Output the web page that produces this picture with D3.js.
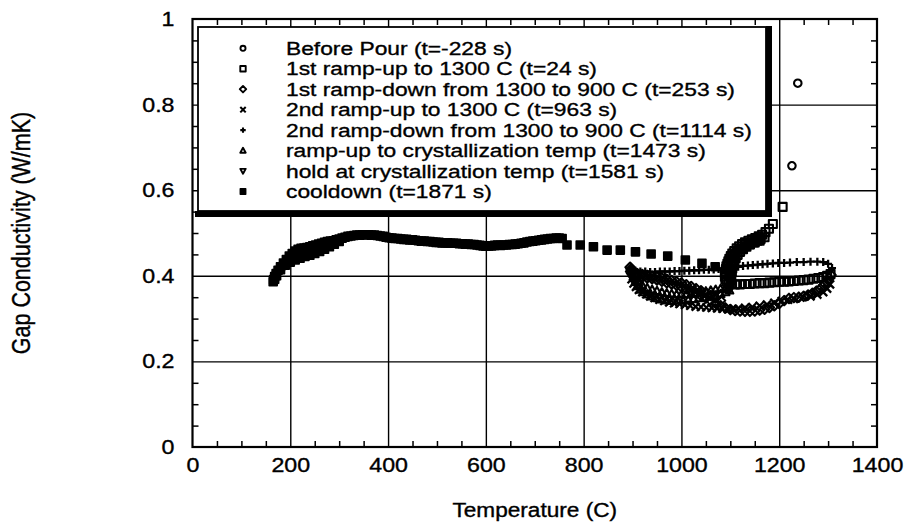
<!DOCTYPE html>
<html>
<head>
<meta charset="utf-8">
<script src="https://cdn.jsdelivr.net/npm/d3@7"></script>
<style>
  body { margin: 0; background: #fff; }
  svg text { font-family: "Liberation Sans", Arial, Helvetica, sans-serif; fill: #000; stroke: #000; stroke-width: 0.35px; }
</style>
</head>
<body>
<svg id="chart" width="905" height="524"></svg>
<script>
// Data: [temperature (C), gap conductivity (W/mK)]
var beforePour = [[1238, 0.850], [1226, 0.657]];

var rampUp1 = [
  [1207, 0.561], [1187, 0.521], [1179, 0.510], [1172, 0.502], [1165, 0.496], [1158, 0.492],
  [1151, 0.488], [1144, 0.485], [1137, 0.482], [1130, 0.478], [1124, 0.474], [1118, 0.469],
  [1113, 0.464], [1108, 0.458], [1104, 0.452], [1101, 0.446], [1098, 0.440], [1096, 0.434],
  [1094, 0.428], [1092, 0.422], [1091, 0.416], [1090, 0.410], [1089, 0.404], [1089, 0.398],
  [1090, 0.392], [1092, 0.387], [1096, 0.383], [1102, 0.381], [1110, 0.380], [1120, 0.380],
  [1130, 0.381], [1140, 0.381], [1150, 0.382], [1160, 0.383], [1170, 0.383], [1180, 0.384],
  [1190, 0.385], [1200, 0.386], [1210, 0.386], [1220, 0.387], [1230, 0.388], [1240, 0.389],
  [1250, 0.390], [1260, 0.391], [1270, 0.393], [1280, 0.395], [1290, 0.397], [1298, 0.400],
  [1305, 0.404],
  [1160, 0.482], [1150, 0.478], [1140, 0.474], [1130, 0.469], [1122, 0.463], [1115, 0.456],
  [1110, 0.449], [1106, 0.441], [1103, 0.433], [1101, 0.425], [1099, 0.417], [1098, 0.409],
  [1170, 0.490], [1162, 0.486], [1155, 0.482], [1148, 0.478], [1140, 0.473], [1133, 0.468],
  [1126, 0.462], [1120, 0.456], [1115, 0.449], [1111, 0.441], [1108, 0.433], [1106, 0.425],
  [1104, 0.417], [1103, 0.409], [1102, 0.401]
];

var rampDown1 = [
  [1306, 0.402], [1302, 0.394], [1297, 0.386], [1291, 0.378], [1284, 0.370], [1276, 0.364],
  [1268, 0.359], [1259, 0.355], [1250, 0.352], [1240, 0.350], [1230, 0.349], [1220, 0.347],
  [1210, 0.342], [1200, 0.335], [1190, 0.330], [1180, 0.326], [1170, 0.322], [1160, 0.320],
  [1150, 0.318], [1140, 0.317], [1130, 0.317], [1120, 0.318], [1110, 0.319], [1100, 0.321],
  [1090, 0.325], [1080, 0.330], [1070, 0.336], [1060, 0.342], [1050, 0.348], [1040, 0.354],
  [1030, 0.360], [1020, 0.365], [1010, 0.370], [1000, 0.374], [990, 0.378], [980, 0.381],
  [970, 0.384], [960, 0.387], [950, 0.390], [940, 0.393], [930, 0.395], [920, 0.397],
  [910, 0.399], [903, 0.402], [898, 0.406], [896, 0.410],
  [1080, 0.342], [1070, 0.348], [1060, 0.354], [1050, 0.360], [1040, 0.365], [1030, 0.370],
  [1020, 0.375], [1010, 0.379], [1000, 0.383], [990, 0.386], [980, 0.389], [970, 0.392],
  [960, 0.395], [950, 0.397], [940, 0.399], [930, 0.401], [920, 0.403], [910, 0.405],
  [902, 0.410], [897, 0.416], [895, 0.420]
];

var rampUp2 = [
  [898, 0.392], [902, 0.382], [907, 0.374], [913, 0.367], [920, 0.362], [928, 0.357],
  [936, 0.352], [945, 0.348], [955, 0.344], [965, 0.341], [975, 0.338], [985, 0.336],
  [996, 0.334], [1007, 0.332], [1018, 0.330], [1029, 0.328], [1040, 0.327], [1051, 0.326],
  [1062, 0.325], [1073, 0.324], [1084, 0.323], [1095, 0.322], [1106, 0.322], [1117, 0.323],
  [1130, 0.325], [1145, 0.327], [1160, 0.330], [1175, 0.333], [1190, 0.337], [1205, 0.341],
  [1218, 0.344], [1230, 0.346], [1248, 0.350], [1264, 0.352], [1278, 0.356], [1290, 0.362],
  [1298, 0.370], [1304, 0.380]
];

var rampDown2 = [
  [1308, 0.418], [1300, 0.428], [1290, 0.432], [1278, 0.433], [1264, 0.433], [1250, 0.432],
  [1236, 0.432], [1222, 0.431], [1210, 0.430], [1198, 0.430], [1187, 0.429], [1176, 0.428],
  [1166, 0.427], [1156, 0.426], [1146, 0.425], [1136, 0.424], [1126, 0.423], [1116, 0.421],
  [1106, 0.419], [1096, 0.418], [1086, 0.417], [1076, 0.416], [1066, 0.415], [1056, 0.414],
  [1046, 0.414], [1036, 0.413], [1026, 0.413], [1016, 0.412], [1006, 0.412], [996, 0.411],
  [986, 0.411], [976, 0.410], [966, 0.410], [956, 0.410], [946, 0.409], [936, 0.409],
  [926, 0.410], [916, 0.410], [906, 0.412], [898, 0.414]
];

var rampCryst = [
  [898, 0.412], [902, 0.398], [906, 0.386], [910, 0.376], [916, 0.368], [923, 0.362],
  [931, 0.357], [940, 0.352], [950, 0.348], [960, 0.345], [970, 0.343], [981, 0.342],
  [992, 0.342], [1003, 0.343], [1014, 0.344], [1025, 0.346], [1036, 0.348], [1047, 0.350],
  [1058, 0.352], [1069, 0.355], [1080, 0.358], [1090, 0.362], [1098, 0.366],
  [905, 0.395], [912, 0.385], [920, 0.378], [930, 0.372], [940, 0.368], [950, 0.365],
  [960, 0.362], [970, 0.360], [980, 0.358], [990, 0.357], [1000, 0.357], [1010, 0.357],
  [1020, 0.358], [1030, 0.360], [1040, 0.362], [1050, 0.364], [1060, 0.366], [1070, 0.368],
  [1080, 0.370], [1090, 0.372]
];

var holdCryst = [
  [1099, 0.368], [1100, 0.373], [1101, 0.378], [1100, 0.383], [1101, 0.388], [1102, 0.392],
  [1101, 0.396], [1102, 0.400], [1103, 0.404], [1102, 0.408], [1101, 0.412]
];

var cooldown = [
  [1093, 0.417], [1069, 0.421], [1042, 0.429], [1008, 0.437], [972, 0.446], [938, 0.451],
  [906, 0.456], [875, 0.460], [848, 0.460], [820, 0.468], [793, 0.472], [766, 0.472],
  [756, 0.487], [750, 0.488], [744, 0.488], [738, 0.487], [732, 0.487], [726, 0.486],
  [720, 0.485], [714, 0.484], [708, 0.483], [702, 0.482], [696, 0.481], [690, 0.480],
  [684, 0.479], [678, 0.477], [672, 0.476], [666, 0.475], [660, 0.474], [654, 0.473],
  [648, 0.473], [642, 0.472], [636, 0.472], [630, 0.471], [624, 0.472], [618, 0.471],
  [612, 0.470], [606, 0.470], [600, 0.469], [594, 0.470], [588, 0.471], [582, 0.472],
  [576, 0.473], [570, 0.473], [564, 0.474], [558, 0.474], [552, 0.475], [546, 0.475],
  [540, 0.476], [534, 0.476], [528, 0.476], [522, 0.477], [516, 0.477], [510, 0.477],
  [504, 0.478], [498, 0.478], [492, 0.479], [486, 0.480], [480, 0.480], [474, 0.481],
  [468, 0.481], [462, 0.482], [456, 0.483], [450, 0.484], [444, 0.484], [438, 0.485],
  [432, 0.485], [426, 0.486], [420, 0.487], [414, 0.487], [408, 0.488], [402, 0.489],
  [396, 0.490], [390, 0.492], [384, 0.493], [378, 0.494], [372, 0.495], [366, 0.495],
  [360, 0.496], [354, 0.496], [348, 0.496], [342, 0.495], [336, 0.495], [330, 0.494],
  [324, 0.493], [318, 0.492], [312, 0.490], [306, 0.488], [300, 0.486], [294, 0.484],
  [288, 0.482], [282, 0.481], [276, 0.480], [270, 0.478], [264, 0.476], [258, 0.474],
  [252, 0.472], [246, 0.470], [240, 0.468], [234, 0.466], [228, 0.465], [222, 0.464],
  [216, 0.462], [210, 0.458], [204, 0.452], [198, 0.446], [192, 0.438], [186, 0.430],
  [180, 0.421], [175, 0.413], [171, 0.405], [168, 0.398], [166, 0.391], [165, 0.386],
  [300, 0.480], [290, 0.474], [280, 0.468], [270, 0.462], [260, 0.457], [250, 0.452],
  [240, 0.448], [230, 0.445], [220, 0.441], [210, 0.437], [200, 0.432], [190, 0.425],
  [180, 0.414], [172, 0.400], [168, 0.392]
];

var legendLabels = [
  "Before Pour (t=-228 s)",
  "1st ramp-up to 1300 C (t=24 s)",
  "1st ramp-down from 1300 to 900 C (t=253 s)",
  "2nd ramp-up to 1300 C (t=963 s)",
  "2nd ramp-down from 1300 to 900 C (t=1114 s)",
  "ramp-up to crystallization temp (t=1473 s)",
  "hold at crystallization temp (t=1581 s)",
  "cooldown (t=1871 s)"
];
var markerTypes = ["circle", "square", "diamond", "x", "plus", "triUp", "triDown", "filledSquare"];

var xTicks = [0, 200, 400, 600, 800, 1000, 1200, 1400];
var yTicks = [0, 0.2, 0.4, 0.6, 0.8, 1];
var xMinor = [50, 100, 150, 250, 300, 350, 450, 500, 550, 650, 700, 750, 850, 900, 950, 1050, 1100, 1150, 1250, 1300, 1350];
var yMinor = [0.05, 0.1, 0.15, 0.25, 0.3, 0.35, 0.45, 0.5, 0.55, 0.65, 0.7, 0.75, 0.85, 0.9, 0.95];

var seriesData = [beforePour, rampUp1, rampDown1, rampUp2, rampDown2, rampCryst, holdCryst, cooldown];

// Layout
const W = 905, H = 524;
const margin = { top: 19, left: 192.5, right: 28, bottom: 77 };
const stretch = 1.16; // the scanned lettering is a bit wide

const svg = d3.select("#chart");

const x = d3.scaleLinear().domain([0, 1400]).range([margin.left, W - margin.right]);
const y = d3.scaleLinear().domain([0, 1]).range([H - margin.bottom, margin.top]);
const plotW = x(1400) - x(0);
const plotH = y(0) - y(1);

// marker shapes
function markerPath(type, s) {
  const h = s / 2;
  if (type === "circle") return `M${h},0A${h},${h} 0 1,1 ${-h},0A${h},${h} 0 1,1 ${h},0Z`;
  if (type === "square" || type === "filledSquare") return `M${-h},${-h}H${h}V${h}H${-h}Z`;
  if (type === "diamond") return `M0,${-h}L${h},0L0,${h}L${-h},0Z`;
  if (type === "x") return `M${-h},${-h}L${h},${h}M${-h},${h}L${h},${-h}`;
  if (type === "plus") return `M${-h},0H${h}M0,${-h}V${h}`;
  if (type === "triUp") return `M0,${-h}L${h},${h * 0.8}L${-h},${h * 0.8}Z`;
  if (type === "triDown") return `M0,${h}L${h},${-h * 0.8}L${-h},${-h * 0.8}Z`;
}
function markerSize(type) {
  if (type === "circle") return 7.5;
  if (type === "filledSquare") return 8;
  if (type === "diamond") return 9.5;
  if (type === "x" || type === "plus") return 8;
  return 8;
}
function markerStroke(type) {
  if (type === "x" || type === "plus") return 2.3;
  if (type === "filledSquare") return 1.6;
  return 2.1;
}

// Grid lines
svg.append("g")
  .attr("transform", `translate(0,${y(0)})`)
  .call(d3.axisBottom(x).tickValues(xTicks.slice(1, -1)).tickSize(-plotH).tickFormat(""))
  .call(g => g.select(".domain").remove())
  .selectAll("line").attr("stroke", "#000").attr("stroke-width", 1.4);

svg.append("g")
  .attr("transform", `translate(${x(0)},0)`)
  .call(d3.axisLeft(y).tickValues(yTicks.slice(1, -1)).tickSize(-plotW).tickFormat(""))
  .call(g => g.select(".domain").remove())
  .selectAll("line").attr("stroke", "#000").attr("stroke-width", 1.4);

// minor ticks on all four sides, pointing inward
function minor(axis, tr) {
  svg.append("g")
    .attr("transform", tr)
    .call(axis.tickSize(-6).tickFormat(""))
    .call(g => g.select(".domain").remove())
    .selectAll("line").attr("stroke", "#000").attr("stroke-width", 1.5);
}
minor(d3.axisBottom(x).tickValues(xMinor), `translate(0,${y(0)})`);
minor(d3.axisTop(x).tickValues(xMinor), `translate(0,${y(1)})`);
minor(d3.axisLeft(y).tickValues(yMinor), `translate(${x(0)},0)`);
minor(d3.axisRight(y).tickValues(yMinor), `translate(${x(1400)},0)`);

// frame
svg.append("rect")
  .attr("x", x(0)).attr("y", y(1))
  .attr("width", plotW).attr("height", plotH)
  .attr("fill", "none").attr("stroke", "#000").attr("stroke-width", 2.2);

// tick labels
const xAx = svg.append("g")
  .attr("transform", `translate(0,${y(0)})`)
  .call(d3.axisBottom(x).tickValues(xTicks).tickSize(0).tickPadding(11).tickFormat(d3.format("d")));
xAx.select(".domain").remove();
xAx.attr("font-family", null);
xAx.selectAll("text")
  .style("font-size", "20px")
  .attr("transform", `scale(${stretch},1)`);

const yAx = svg.append("g")
  .attr("transform", `translate(${x(0)},0)`)
  .call(d3.axisLeft(y).tickValues(yTicks).tickSize(0).tickPadding(15.5).tickFormat(d => String(+d.toFixed(1))));
yAx.select(".domain").remove();
yAx.attr("font-family", null);
yAx.selectAll("text")
  .style("font-size", "20px")
  .attr("transform", `scale(${stretch},1)`);
svg.selectAll(".tick text").attr("fill", "#000");

// axis titles
svg.append("text")
  .attr("transform", `translate(${x(700)},517) scale(${stretch},1)`)
  .attr("text-anchor", "middle")
  .style("font-size", "19.5px")
  .text("Temperature (C)");

svg.append("text")
  .attr("transform", `translate(30,${y(0.5)}) scale(${stretch},1) rotate(-90)`)
  .attr("text-anchor", "middle")
  .style("font-size", "21.5px")
  .text("Gap Conductivity (W/mK)");

// Legend box with heavy drop shadow
const legend = svg.append("g");
legend.append("rect")
  .attr("x", 198).attr("y", 27).attr("width", 568).attr("height", 184)
  .attr("fill", "#fff").attr("stroke", "#000").attr("stroke-width", 1.8);
legend.append("rect")
  .attr("x", 766).attr("y", 26).attr("width", 6).attr("height", 191).attr("fill", "#000");
legend.append("rect")
  .attr("x", 195).attr("y", 211).attr("width", 577).attr("height", 6).attr("fill", "#000");

legendLabels.forEach(function(label, i) {
  const cy = 48.3 + i * 20.45;
  const t = markerTypes[i];
  legend.append("path")
    .attr("transform", `translate(243,${cy})`)
    .attr("d", markerPath(t, markerSize(t) * 0.68))
    .attr("fill", t === "filledSquare" ? "#000" : "none")
    .attr("stroke", "#000")
    .attr("stroke-width", markerStroke(t) * 0.9)
    .attr("stroke-linejoin", "round");
  legend.append("text")
    .attr("transform", `translate(286,${cy + 6.7}) scale(1.2,1)`)
    .style("font-size", "19px")
    .text(label);
});

// Data points
seriesData.forEach(function(pts, i) {
  const t = markerTypes[i];
  svg.append("g")
    .selectAll("path")
    .data(pts)
    .enter()
    .append("path")
    .attr("transform", d => `translate(${x(d[0])},${y(d[1])})`)
    .attr("d", markerPath(t, markerSize(t)))
    .attr("fill", t === "filledSquare" ? "#000" : "none")
    .attr("stroke", "#000")
    .attr("stroke-width", markerStroke(t))
    .attr("stroke-linejoin", "round");
});
</script>
</body>
</html>
